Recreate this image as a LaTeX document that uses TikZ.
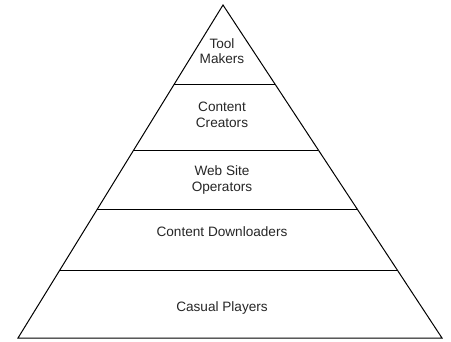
\documentclass[tikz,border=0pt]{standalone}
\usepackage{fontspec}
\setmainfont{Liberation Sans}
\begin{document}
\begin{tikzpicture}[x=1pt,y=-1pt,
  edge/.style={draw=black,line width=1pt},
  lbl/.style={font=\fontsize{13.6}{15.5}\selectfont,align=center,inner sep=0pt,text=black!85}]
\useasboundingbox (0,0) rectangle (451,341);
\coordinate (apex) at (223,5);
\coordinate (bl) at (18,338);
\coordinate (br) at (442,338);
\draw[edge,line join=miter] (apex) -- (bl) -- (br) -- cycle;
% horizontal dividers
\foreach \yy/\nm in {84/a,150/b,210/c,270/d}{
  \path (apex) -- (bl) coordinate[pos={(\yy-5)/333}] (L\nm);
  \path (apex) -- (br) coordinate[pos={(\yy-5)/333}] (R\nm);
  \draw[edge] (L\nm) -- (R\nm);
}
\node[lbl] (tool) at (222,51) {Tool\\Makers};
\node[lbl] (creat) at (222,115) {Content\\Creators};
\node[lbl] (web) at (222,180) {Web Site\\Operators};
\node[lbl] (down) at (222,232) {Content Downloaders};
\node[lbl] (cas) at (222,308) {Casual Players};
\end{tikzpicture}
\end{document}
